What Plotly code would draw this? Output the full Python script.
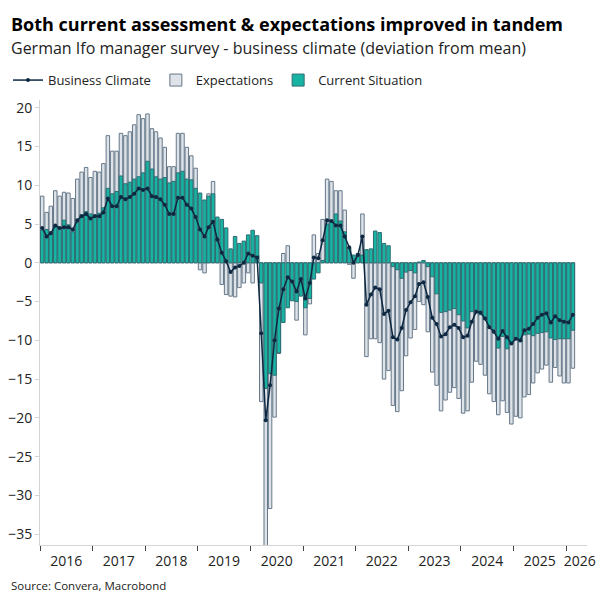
import pandas as pd
import plotly.graph_objects as go

# Monthly ifo readings (deviation from mean), Jan 2016 - Feb 2026
months = pd.date_range('2016-01-01', periods=122, freq='MS') + pd.Timedelta(days=15)

business_climate = [
    4.5, 3.4, 3.8, 4.8, 4.5, 4.6, 4.6, 4.3, 5.5, 6.0, 6.3, 5.7,
    6.0, 6.0, 6.5, 8.3, 7.3, 7.3, 8.5, 8.2, 8.5, 8.9, 9.6, 9.4,
    9.6, 8.6, 8.5, 8.2, 7.5, 6.3, 6.3, 8.4, 8.4, 7.5, 7.0, 5.9,
    4.3, 3.4, 4.6, 5.3, 3.0, 1.3, 0.2, -1.2, -0.6, -0.4, 0.0, 1.2,
    0.9, 0.7, -9.1, -20.3, -15.8, -10.0, -5.9, -3.4, -1.85, -2.4, -3.7, -2.1,
    -4.6, -2.6, 0.7, 0.6, 2.9, 5.5, 5.4, 4.8, 4.8, 3.4, 2.0, 0.0,
    1.0, 3.4, -5.4, -4.1, -3.2, -3.4, -6.6, -6.2, -9.6, -9.9, -8.4, -6.1,
    -5.1, -4.3, -2.75, -2.5, -4.4, -7.1, -7.9, -9.5, -9.2, -8.3, -8.0, -8.4,
    -9.6, -9.4, -7.6, -6.3, -6.4, -7.2, -8.3, -8.9, -9.8, -8.8, -9.6, -10.4,
    -9.8, -10.0, -8.7, -8.5, -7.9, -7.1, -6.7, -6.5, -7.7, -6.9, -7.4, -7.6,
    -7.7, -6.7,
]

expectations = [
    8.6, 6.5, 7.3, 9.3, 8.6, 9.1, 9.0, 8.3, 10.8, 11.7, 12.3, 11.0,
    11.8, 11.7, 12.8, 16.4, 14.4, 14.4, 16.7, 16.4, 16.9, 17.8, 19.1, 18.6,
    19.2, 17.3, 16.9, 16.1, 14.9, 12.4, 12.4, 16.7, 16.7, 14.9, 13.8, 12.2,
    -0.9, -1.3, 8.9, 10.5, 3.0, -2.8, -4.1, -4.3, -4.4, -3.2, -2.6, -1.3,
    -2.6, 1.0, -17.9, -37.5, -31.7, -19.9, -11.7, 1.2, 2.2, -1.0, -7.4, -1.5,
    -9.3, -5.3, 3.6, 1.2, 5.6, 10.8, 10.5, 9.3, 9.3, 6.8, -0.2, -2.0,
    0.8, 6.3, -12.1, -9.8, -9.8, -10.3, -15.0, -13.9, -18.4, -19.2, -16.5, -12.0,
    -9.7, -8.6, -5.0, -5.4, -8.9, -14.1, -15.8, -19.1, -17.7, -16.7, -16.1, -17.5,
    -19.4, -19.1, -15.4, -12.7, -13.1, -14.5, -16.9, -17.9, -19.6, -17.8, -19.3, -20.8,
    -19.8, -20.0, -17.3, -17.0, -15.5, -14.2, -13.7, -13.2, -15.4, -13.5, -14.6, -15.5,
    -15.5, -13.6,
]

current_situation = [
    4.2, 4.3, 4.0, 4.8, 4.5, 5.5, 4.9, 4.0, 5.2, 6.2, 6.6, 6.3,
    6.2, 6.4, 7.1, 9.6, 8.9, 9.2, 11.2, 10.2, 10.4, 10.8, 11.1, 11.6,
    13.1, 12.1, 11.1, 10.8, 11.0, 10.3, 10.5, 11.6, 11.8, 10.8, 10.7, 9.6,
    9.0, 8.1, 8.6, 8.9, 5.9, 5.6, 4.5, 1.8, 3.4, 2.5, 2.8, 3.6,
    4.2, 3.5, -2.6, -16.2, -14.3, -14.5, -11.6, -7.7, -5.8, -4.9, -5.0, -4.3,
    -5.8, -4.6, -2.1, -1.3, 0.3, 5.0, 5.3, 6.3, 5.4, 4.0, 1.9, 1.0,
    1.2, 1.0, 1.7, 1.8, 4.1, 3.9, 2.5, 2.2, -0.5, -0.9, -2.0, -1.2,
    -1.0, -1.3, 0.1, 0.3, -0.5, -1.8, -4.0, -6.4, -6.3, -6.1, -5.9, -6.7,
    -7.5, -8.4, -6.3, -6.1, -6.7, -7.3, -8.3, -8.6, -11.0, -9.5, -11.1, -10.4,
    -9.9, -10.2, -9.3, -9.2, -9.4, -9.1, -9.0, -8.9, -9.7, -9.9, -9.8, -9.8,
    -9.8, -8.7,
]

year_labels = ['2016', '2017', '2018', '2019', '2020', '2021', '2022',
               '2023', '2024', '2025', '2026']
year_label_dates = [f'{y}-07-01' for y in year_labels[:-1]] + ['2026-04-05']

bar_width = 0.8 * 30.4 * 24 * 3600 * 1000  # ms

fig = go.Figure()

fig.add_trace(go.Bar(
    x=months, y=expectations, name='Expectations',
    width=bar_width,
    marker=dict(color='#dde3e8', line=dict(color='#667889', width=1)),
    legendrank=2,
))
fig.add_trace(go.Bar(
    x=months, y=current_situation, name='Current Situation',
    width=bar_width,
    marker=dict(color='#17b3a3', line=dict(color='#2f6d72', width=1)),
    legendrank=3,
))
fig.add_trace(go.Scatter(
    x=months, y=business_climate, name='Business Climate',
    mode='lines+markers',
    line=dict(color='#0e2841', width=1.5),
    marker=dict(color='#0e2841', size=4),
    legendrank=1,
))

# the page adds an 8px body margin, so the figure is 8px smaller
fig.update_layout(
    width=596, height=596,
    margin=dict(l=32, r=17, t=92, b=59),
    barmode='overlay',
    plot_bgcolor='white',
    paper_bgcolor='white',
    font=dict(family='Open Sans, sans-serif', color='#222222'),
    showlegend=True,
    legend=dict(
        orientation='h', traceorder='normal',
        xref='container', yref='container',
        x=0.0, xanchor='left', y=0.879, yanchor='middle',
        font=dict(size=13, color='#222222'),
        itemwidth=30, bgcolor='rgba(0,0,0,0)',
    ),
    xaxis=dict(
        type='date', automargin=False,
        range=['2016-01-01', '2026-05-25'],
        tickvals=year_label_dates,
        ticktext=year_labels,
        ticks='',
        ticklabeloverflow='allow',
        ticklabelstandoff=3,
        showgrid=False,
        showline=True, linecolor='#d4d4d4', linewidth=1,
        tickfont=dict(size=14, color='#222222'),
        minor=dict(ticks='outside', ticklen=5, tickcolor='#444444',
                   dtick='M12', tick0='2016-01-01', showgrid=False),
    ),
    yaxis=dict(
        automargin=False,
        range=[-36.4, 21],
        tickvals=[-35, -30, -25, -20, -15, -10, -5, 0, 5, 10, 15, 20],
        showgrid=False, zeroline=False,
        showline=True, linecolor='#d4d4d4', linewidth=1,
        ticks='outside', ticklen=4, tickcolor='#d4d4d4',
        tickfont=dict(size=14, color='#222222'),
    ),
)

fig.add_annotation(
    text='<b>Both current assessment & expectations improved in tandem</b>',
    xref='paper', yref='paper', x=-0.056, y=1.17,
    xanchor='left', yanchor='middle', showarrow=False,
    font=dict(size=18, color='#000000'),
)
fig.add_annotation(
    text='German Ifo manager survey - business climate (deviation from mean)',
    xref='paper', yref='paper', x=-0.056, y=1.116,
    xanchor='left', yanchor='middle', showarrow=False,
    font=dict(size=16, color='#222222'),
)
fig.add_annotation(
    text='Source: Convera, Macrobond',
    xref='paper', yref='paper', x=-0.056, y=-0.09,
    xanchor='left', yanchor='middle', showarrow=False,
    font=dict(size=11.5, color='#222222'),
)

fig.write_html('out.html')
